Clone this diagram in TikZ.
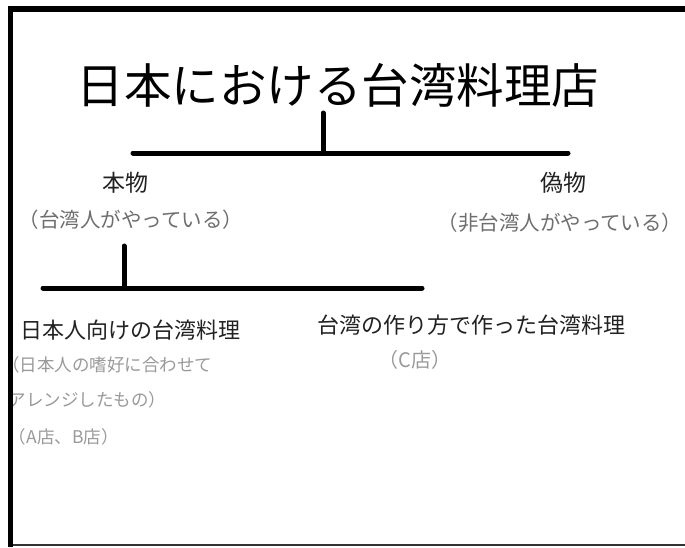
\documentclass[tikz,border=0pt]{standalone}
\usepackage{fontspec}
\setmainfont{Noto Sans CJK JP}
\definecolor{darkt}{HTML}{222222}
\definecolor{midg}{HTML}{6E6E6E}
\definecolor{lightg}{HTML}{9A9A9A}
\begin{document}
\begin{tikzpicture}[x=1pt,y=-1pt,
  every node/.style={inner sep=0pt,outer sep=0pt},
  treeline/.style={line width=5pt,line cap=round,black},
  titletxt/.style={font=\fontsize{47.5}{47.5}\selectfont,text=black},
  headtxt/.style={font=\fontsize{23}{23}\selectfont,text=darkt},
  subtxt/.style={font=\fontsize{20.5}{20.5}\selectfont,text=midg},
  labtxt/.style={font=\fontsize{22}{22}\selectfont,text=darkt},
  smalltxt/.style={font=\fontsize{17.5}{17.5}\selectfont,text=lightg}]
\useasboundingbox (0,0) rectangle (685,547);
\fill[white] (0,0) rectangle (685,547);

% texts
\node[titletxt] (title) at (338,85) {日本における台湾料理店};
\node[headtxt] (real) at (125,183) {本物};
\node[subtxt] (realsub) at (131,220) {（台湾人がやっている）};
\node[headtxt] (fake) at (563,183) {偽物};
\node[subtxt] (fakesub) at (560,223) {（非台湾人がやっている）};
\node[labtxt,anchor=west] (jp) at (20,330) {日本人向けの台湾料理};
\node[smalltxt,anchor=west] (jp1) at (2,365) {（日本人の嗜好に合わせて};
\node[smalltxt,anchor=west] (jp2) at (9,400) {アレンジしたもの）};
\node[smalltxt,anchor=west] (jp3) at (9,437) {（A店、B店）};
\node[labtxt] (tw) at (471,325) {台湾の作り方で作った台湾料理};
\node[smalltxt,font=\fontsize{20}{20}\selectfont] (twsub) at (415,360) {（C店）};

% tree lines
\coordinate (top1) at (323,113);
\coordinate (j1) at (323,153);
\coordinate (l1) at (133,153);
\coordinate (r1) at (568,153);
\coordinate (top2) at (124,246);
\coordinate (j2) at (124,288);
\coordinate (l2) at (43,288);
\coordinate (r2) at (422,288);
\draw[treeline] (top1) -- (j1);
\draw[treeline] (l1) -- (r1);
\draw[treeline] (top2) -- (j2);
\draw[treeline] (l2) -- (r2);

% frame
\fill[black] (8,6) rectangle (685,12);
\fill[black] (8,6) rectangle (13,547);
\fill[black!80] (13,544) rectangle (685,546);
\end{tikzpicture}
\end{document}
